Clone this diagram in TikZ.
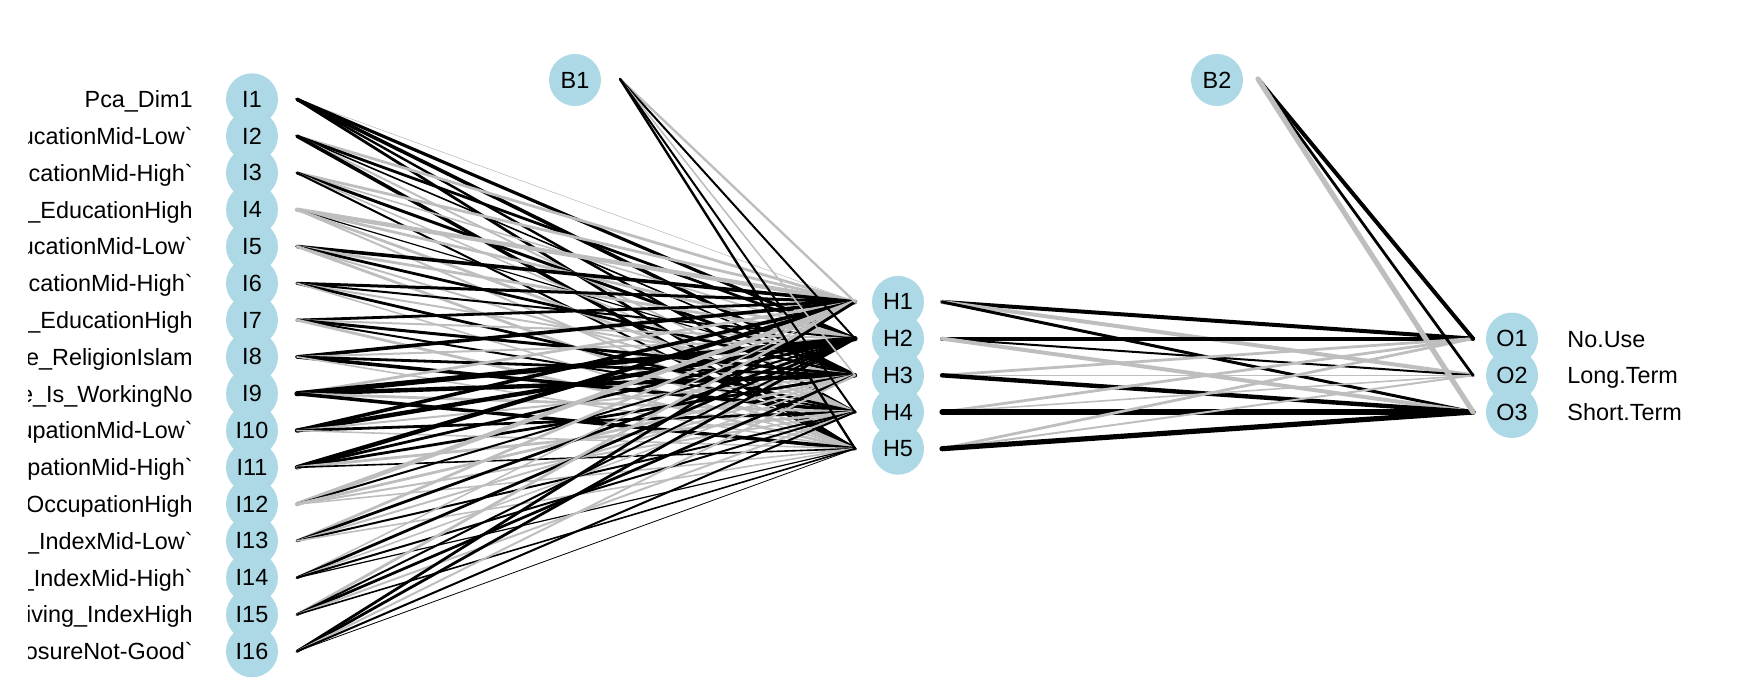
\documentclass[tikz,border=0pt]{standalone}
\usepackage{fontspec}
\setmainfont{Liberation Sans}
\definecolor{nodeblue}{HTML}{ADD8E6}
\definecolor{wtgrey}{HTML}{BEBEBE}
\newcommand{\bq}{\textasciigrave}
\tikzset{
  neuron/.style={circle, fill=nodeblue, minimum size=26pt, inner sep=0pt, font=\fontsize{11.7}{14}\selectfont},
  varlabel/.style={inner sep=0pt, font=\fontsize{11.7}{14}\selectfont},
  wire/.style={line cap=round},
}
\newcommand{\wire}[3]{%
  \pgfmathsetmacro{\lw}{abs(#1)}%
  \ifdim #1pt<0pt \def\wcol{wtgrey}\else\def\wcol{black}\fi
  \draw[wire, draw=\wcol, line width=\lw pt] (#2) -- (#3);}
\begin{document}
\begin{tikzpicture}[x=0.5pt, y=-0.5pt]
    \useasboundingbox (0,0) rectangle (1750,691);

    % Input layer
    \foreach \i in {1,...,16} {
        \pgfmathsetmacro{\yy}{99.3+36.8*(\i-1)}
        \node[neuron] (I\i) at (252,\yy) {I\i};
        \coordinate (I\i-out) at (297,\yy);
    }
    % Input labels, cut at the plot edge
    \begin{scope}
        \clip (28,0) rectangle (1750,691);
        \foreach \i/\lab in {1/Pca\_Dim1, 2/ucationMid-Low\bq, 3/cationMid-High\bq, 4/\_EducationHigh,
            5/ucationMid-Low\bq, 6/cationMid-High\bq, 7/\_EducationHigh, 8/e\_ReligionIslam,
            9/e\_Is\_WorkingNo, 10/upationMid-Low\bq, 11/pationMid-High\bq, 12/OccupationHigh,
            13/\_IndexMid-Low\bq, 14/\_IndexMid-High\bq, 15/iving\_IndexHigh, 16/osureNot-Good\bq} {
            \node[varlabel, anchor=base east] (L\i) at (193,{99.3+36.8*(\i-1)+8.4}) {\lab};
        }
    \end{scope}

    % Hidden layer
    \foreach \j in {1,...,5} {
        \pgfmathsetmacro{\yy}{375.3+36.7*(\j-3)}
        \node[neuron] (H\j) at (898,\yy) {H\j};
        \coordinate (H\j-in) at (855,\yy);
        \coordinate (H\j-out) at (942,\yy);
    }

    % Output layer
    \foreach \k/\lab in {1/No.Use, 2/Long.Term, 3/Short.Term} {
        \pgfmathsetmacro{\yy}{375.3+36.7*(\k-2)}
        \node[neuron] (O\k) at (1512,\yy) {O\k};
        \node[varlabel, anchor=base west] (R\k) at (1567,\yy+8.4) {\lab};
        \coordinate (O\k-in) at (1473,\yy);
    }

    % Bias nodes
    \node[neuron] (B1) at (575,80) {B1};
    \node[neuron] (B2) at (1217,80) {B2};
    \coordinate (B1-out) at (620,79);
    \coordinate (B2-out) at (1258,79);

    % Input -> hidden weights
    \foreach \i/\a/\b/\c/\d/\e in {1/-0.3/1.6/1.8/1.2/1.4, 2/-1.4/1.4/0.8/-1.0/1.8,
        3/-1.4/-0.8/1.5/-0.8/1.0, 4/-2.2/-1.4/0.6/-1.4/-1.0, 5/1.8/-1.4/1.4/-1.0/-1.4,
        6/1.5/1.0/-1.0/1.4/-0.8, 7/1.4/-1.0/1.5/1.0/-1.4, 8/1.8/-1.0/1.4/1.8/-0.8,
        9/-1.4/2.6/2.2/-1.4/1.8, 10/1.8/2.2/-1.0/1.4/-0.8, 11/2.2/1.4/1.4/-1.4/0.8,
        12/-2.2/1.0/-1.4/-1.0/-0.8, 13/-1.4/1.4/-1.0/1.0/-0.8, 14/-0.8/1.4/-0.8/1.0/0.6,
        15/-1.4/1.0/1.4/-1.0/0.8, 16/1.4/1.4/-1.0/1.0/0.4} {
        \foreach \w [count=\j] in {\a,\b,\c,\d,\e} {
            \wire{\w}{I\i-out}{H\j-in}
        }
    }

    % Bias -> hidden
    \foreach \w [count=\j] in {-1.2,1.0,-0.8,1.0,1.2} {
        \wire{\w}{B1-out}{H\j-in}
    }

    % Hidden -> output weights
    \foreach \j/\a/\b/\c in {1/2.0/-2.0/1.5, 2/2.0/1.0/-2.0, 3/-1.4/-0.8/2.2,
        4/-1.4/-0.8/2.6, 5/-1.4/-1.0/2.6} {
        \foreach \w [count=\k] in {\a,\b,\c} {
            \wire{\w}{H\j-out}{O\k-in}
        }
    }

    % Bias -> output
    \foreach \w [count=\k] in {2.0,1.4,-2.6} {
        \wire{\w}{B2-out}{O\k-in}
    }
\end{tikzpicture}
\end{document}
